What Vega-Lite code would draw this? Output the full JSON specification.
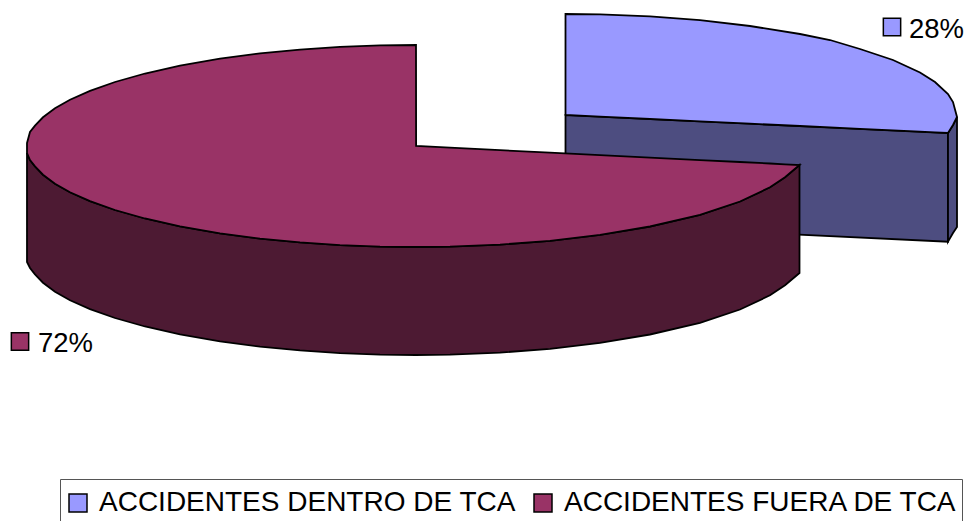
{"$schema":"https://vega.github.io/schema/vega-lite/v6.json","width":969,"height":521,"padding":0,"autosize":{"type":"none"},"background":"white","view":{"stroke":null},
"datasets":{
"sectores":[
{"categoria":"ACCIDENTES DENTRO DE TCA","etiqueta":"28%","x":892,"y":27,"x_texto":909,"y_texto":38},
{"categoria":"ACCIDENTES FUERA DE TCA","etiqueta":"72%","x":20,"y":341.5,"x_texto":38,"y_texto":352}],
"contorno":[
{"parte":"azul_pared","x":565.5,"a":115,"b":223.7},{"parte":"azul_pared","x":948,"a":133,"b":241.7},
{"parte":"azul_borde","x":948,"a":133,"b":241.7},{"parte":"azul_borde","x":953,"a":125,"b":233},{"parte":"azul_borde","x":957,"a":117,"b":227},
{"parte":"azul_cara","categoria":"ACCIDENTES DENTRO DE TCA","x":565.5,"a":14,"b":115},{"parte":"azul_cara","categoria":"ACCIDENTES DENTRO DE TCA","x":600,"a":14.4,"b":116.6},{"parte":"azul_cara","categoria":"ACCIDENTES DENTRO DE TCA","x":650,"a":16.4,"b":119},{"parte":"azul_cara","categoria":"ACCIDENTES DENTRO DE TCA","x":700,"a":20.2,"b":121.3},{"parte":"azul_cara","categoria":"ACCIDENTES DENTRO DE TCA","x":750,"a":26,"b":123.7},{"parte":"azul_cara","categoria":"ACCIDENTES DENTRO DE TCA","x":800,"a":34,"b":126},{"parte":"azul_cara","categoria":"ACCIDENTES DENTRO DE TCA","x":830,"a":40,"b":127.4},{"parte":"azul_cara","categoria":"ACCIDENTES DENTRO DE TCA","x":860,"a":49,"b":128.9},{"parte":"azul_cara","categoria":"ACCIDENTES DENTRO DE TCA","x":893,"a":60,"b":130.4},{"parte":"azul_cara","categoria":"ACCIDENTES DENTRO DE TCA","x":920,"a":72.5,"b":131.7},{"parte":"azul_cara","categoria":"ACCIDENTES DENTRO DE TCA","x":935,"a":82,"b":132.4},{"parte":"azul_cara","categoria":"ACCIDENTES DENTRO DE TCA","x":948,"a":94,"b":133},{"parte":"azul_cara","categoria":"ACCIDENTES DENTRO DE TCA","x":953,"a":102,"b":125},{"parte":"azul_cara","categoria":"ACCIDENTES DENTRO DE TCA","x":957,"a":117,"b":117},
{"parte":"granate_pared","x":27,"a":153,"b":262},{"parte":"granate_pared","x":30,"a":160,"b":268},{"parte":"granate_pared","x":35,"a":166.4,"b":274.4},{"parte":"granate_pared","x":43,"a":174.7,"b":282.7},{"parte":"granate_pared","x":55,"a":183.7,"b":291.7},{"parte":"granate_pared","x":70,"a":192.2,"b":300.2},{"parte":"granate_pared","x":90,"a":201.1,"b":309.1},{"parte":"granate_pared","x":115,"a":210,"b":318},{"parte":"granate_pared","x":145,"a":218.5,"b":326.5},{"parte":"granate_pared","x":180,"a":226.3,"b":334.3},{"parte":"granate_pared","x":220,"a":233.3,"b":341.3},{"parte":"granate_pared","x":260,"a":238.6,"b":346.6},{"parte":"granate_pared","x":300,"a":242.4,"b":350.4},{"parte":"granate_pared","x":340,"a":245.1,"b":353.1},{"parte":"granate_pared","x":380,"a":246.6,"b":354.6},{"parte":"granate_pared","x":416,"a":247,"b":355},{"parte":"granate_pared","x":450,"a":246.6,"b":354.6},{"parte":"granate_pared","x":500,"a":244.6,"b":352.6},{"parte":"granate_pared","x":550,"a":240.8,"b":348.8},{"parte":"granate_pared","x":600,"a":234.9,"b":342.9},{"parte":"granate_pared","x":650,"a":226.5,"b":334.5},{"parte":"granate_pared","x":700,"a":214.8,"b":322.8},{"parte":"granate_pared","x":740,"a":201.5,"b":309.5},{"parte":"granate_pared","x":770,"a":187.3,"b":295.3},{"parte":"granate_pared","x":785,"a":177.2,"b":285.2},{"parte":"granate_pared","x":799.5,"a":165,"b":273},
{"parte":"granate_cara","categoria":"ACCIDENTES FUERA DE TCA","x":27,"a":143,"b":153},{"parte":"granate_cara","categoria":"ACCIDENTES FUERA DE TCA","x":30,"a":132,"b":160},{"parte":"granate_cara","categoria":"ACCIDENTES FUERA DE TCA","x":35,"a":125.6,"b":166.4},{"parte":"granate_cara","categoria":"ACCIDENTES FUERA DE TCA","x":43,"a":117.3,"b":174.7},{"parte":"granate_cara","categoria":"ACCIDENTES FUERA DE TCA","x":55,"a":108.3,"b":183.7},{"parte":"granate_cara","categoria":"ACCIDENTES FUERA DE TCA","x":70,"a":99.8,"b":192.2},{"parte":"granate_cara","categoria":"ACCIDENTES FUERA DE TCA","x":90,"a":90.9,"b":201.1},{"parte":"granate_cara","categoria":"ACCIDENTES FUERA DE TCA","x":115,"a":82,"b":210},{"parte":"granate_cara","categoria":"ACCIDENTES FUERA DE TCA","x":145,"a":73.5,"b":218.5},{"parte":"granate_cara","categoria":"ACCIDENTES FUERA DE TCA","x":180,"a":65.7,"b":226.3},{"parte":"granate_cara","categoria":"ACCIDENTES FUERA DE TCA","x":220,"a":58.7,"b":233.3},{"parte":"granate_cara","categoria":"ACCIDENTES FUERA DE TCA","x":260,"a":53.4,"b":238.6},{"parte":"granate_cara","categoria":"ACCIDENTES FUERA DE TCA","x":300,"a":49.6,"b":242.4},{"parte":"granate_cara","categoria":"ACCIDENTES FUERA DE TCA","x":340,"a":46.9,"b":245.1},{"parte":"granate_cara","categoria":"ACCIDENTES FUERA DE TCA","x":380,"a":45.4,"b":246.6},{"parte":"granate_cara","categoria":"ACCIDENTES FUERA DE TCA","x":416,"a":45,"b":247},{"parte":"granate_cara","categoria":"ACCIDENTES FUERA DE TCA","x":416.1,"a":146,"b":247},{"parte":"granate_cara","categoria":"ACCIDENTES FUERA DE TCA","x":450,"a":147.7,"b":246.6},{"parte":"granate_cara","categoria":"ACCIDENTES FUERA DE TCA","x":500,"a":150.2,"b":244.6},{"parte":"granate_cara","categoria":"ACCIDENTES FUERA DE TCA","x":550,"a":152.6,"b":240.8},{"parte":"granate_cara","categoria":"ACCIDENTES FUERA DE TCA","x":600,"a":155.1,"b":234.9},{"parte":"granate_cara","categoria":"ACCIDENTES FUERA DE TCA","x":650,"a":157.6,"b":226.5},{"parte":"granate_cara","categoria":"ACCIDENTES FUERA DE TCA","x":700,"a":160.1,"b":214.8},{"parte":"granate_cara","categoria":"ACCIDENTES FUERA DE TCA","x":740,"a":162,"b":201.5},{"parte":"granate_cara","categoria":"ACCIDENTES FUERA DE TCA","x":770,"a":163.5,"b":187.3},{"parte":"granate_cara","categoria":"ACCIDENTES FUERA DE TCA","x":785,"a":164.3,"b":177.2},{"parte":"granate_cara","categoria":"ACCIDENTES FUERA DE TCA","x":799.5,"a":165,"b":165}
]},
"layer":[
{"data":{"name":"contorno"},"transform":[{"filter":"datum.parte==='azul_pared'"}],"mark":{"type":"area","orient":"vertical","fill":"#4D4D80","stroke":"black","strokeWidth":1.8},
"encoding":{"x":{"field":"x","type":"quantitative","scale":{"domain":[0,969],"nice":false,"zero":false},"axis":null},"y":{"field":"a","type":"quantitative","scale":{"domain":[0,521],"nice":false,"zero":false,"reverse":true},"axis":null},"y2":{"field":"b"}}},
{"data":{"name":"contorno"},"transform":[{"filter":"datum.parte==='azul_borde'"}],"mark":{"type":"area","orient":"vertical","fill":"#4D4D80","stroke":"black","strokeWidth":1.8},
"encoding":{"x":{"field":"x","type":"quantitative"},"y":{"field":"a","type":"quantitative"},"y2":{"field":"b"}}},
{"data":{"name":"contorno"},"transform":[{"filter":"datum.parte==='azul_cara'"}],"mark":{"type":"area","orient":"vertical","stroke":"black","strokeWidth":1.8,"opacity":1},
"encoding":{"x":{"field":"x","type":"quantitative"},"y":{"field":"a","type":"quantitative"},"y2":{"field":"b"},
"fill":{"field":"categoria","type":"nominal","scale":{"domain":["ACCIDENTES DENTRO DE TCA","ACCIDENTES FUERA DE TCA"],"range":["#9999FF","#993366"]},
"legend":{"title":" ","titleFontSize":1,"titlePadding":5,"orient":"none","legendX":60,"legendY":479,"direction":"horizontal","columns":2,"padding":4,"columnPadding":13,"strokeColor":"#555555","symbolType":"square","symbolSize":324,"symbolStrokeColor":"black","symbolStrokeWidth":1.5,"symbolOpacity":1,"labelFont":"Liberation Sans","labelFontSize":28,"labelColor":"black","labelLimit":500,"labelOffset":7,"labelExpr":"datum.index==1?datum.label+'\u00a0\u00a0':datum.label"}}}},
{"data":{"name":"contorno"},"transform":[{"filter":"datum.parte==='granate_pared'"}],"mark":{"type":"area","orient":"vertical","fill":"#4D1A33","stroke":"black","strokeWidth":1.8},
"encoding":{"x":{"field":"x","type":"quantitative"},"y":{"field":"a","type":"quantitative"},"y2":{"field":"b"}}},
{"data":{"name":"contorno"},"transform":[{"filter":"datum.parte==='granate_cara'"}],"mark":{"type":"area","orient":"vertical","stroke":"black","strokeWidth":1.8,"opacity":1},
"encoding":{"x":{"field":"x","type":"quantitative"},"y":{"field":"a","type":"quantitative"},"y2":{"field":"b"},"fill":{"field":"categoria","type":"nominal"}}},
{"data":{"name":"sectores"},"mark":{"type":"point","shape":"square","filled":true,"size":300,"stroke":"black","strokeWidth":1.5,"opacity":1},
"encoding":{"x":{"field":"x","type":"quantitative"},"y":{"field":"y","type":"quantitative"},"fill":{"field":"categoria","type":"nominal"}}},
{"data":{"name":"sectores"},"mark":{"type":"text","align":"left","baseline":"alphabetic","font":"Liberation Sans","fontSize":27.5,"color":"black"},
"encoding":{"x":{"field":"x_texto","type":"quantitative"},"y":{"field":"y_texto","type":"quantitative"},"text":{"field":"etiqueta"}}}
]}
